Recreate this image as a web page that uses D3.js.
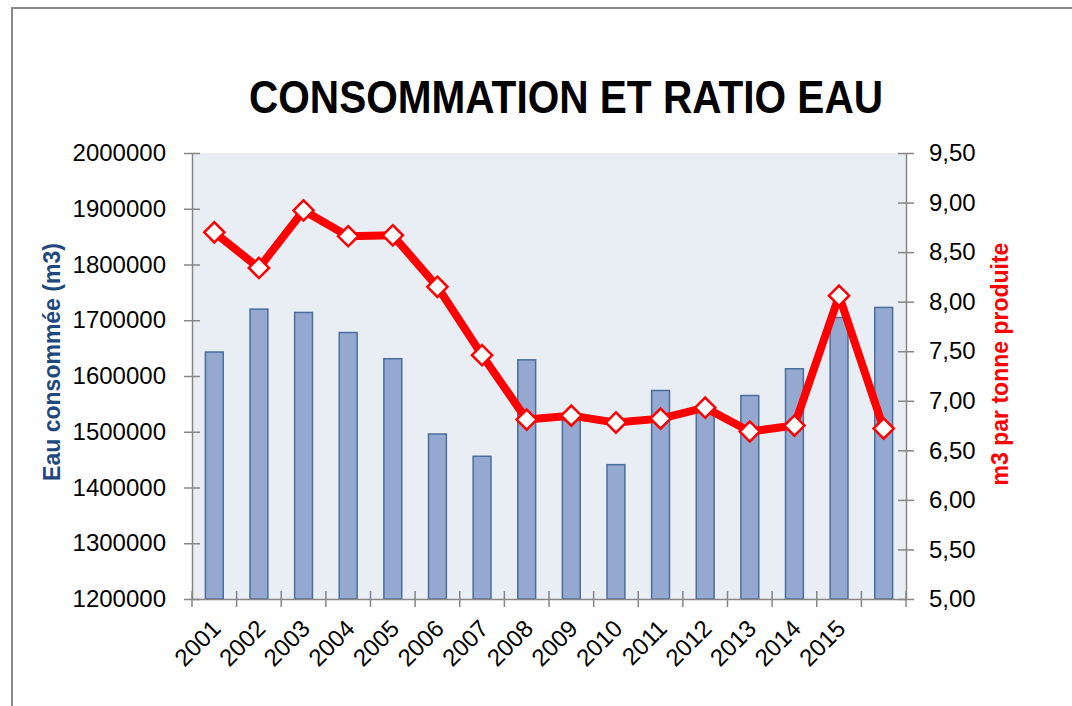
<!DOCTYPE html>
<html>
<head>
<meta charset="utf-8">
<script src="https://cdn.jsdelivr.net/npm/d3@7"></script>
<style>
  html, body { margin: 0; padding: 0; background: #fff; }
  svg { display: block; }
  text { font-family: "Liberation Sans", Arial, sans-serif; }
</style>
</head>
<body>
<div id="chart"></div>
<script>
// categories (the last one has no label in the original)
var years = ["2001", "2002", "2003", "2004", "2005", "2006", "2007", "2008",
             "2009", "2010", "2011", "2012", "2013", "2014", "2015", ""];

// water consumed (m3)
var consumption = [1643000, 1720000, 1714000, 1678000, 1631000, 1496000, 1456000, 1629000,
                   1520000, 1441000, 1574000, 1540000, 1565000, 1613000, 1705000, 1723000];

// m3 per tonne produced
var ratio = [8.70, 8.34, 8.92, 8.66, 8.67, 8.15, 7.46, 6.81,
             6.85, 6.78, 6.82, 6.93, 6.69, 6.75, 8.06, 6.72];

var leftTicks = [1200000, 1300000, 1400000, 1500000, 1600000, 1700000, 1800000, 1900000, 2000000];
var rightTicks = [5.0, 5.5, 6.0, 6.5, 7.0, 7.5, 8.0, 8.5, 9.0, 9.5];

var W = 1072, H = 706;
var plot = { left: 192, right: 906, top: 153, bottom: 599 };

var svg = d3.select("#chart").append("svg")
    .attr("width", W)
    .attr("height", H);

// outer chart border
svg.append("rect")
    .attr("x", 12).attr("y", 8)
    .attr("width", W + 20).attr("height", H + 20)
    .attr("fill", "#fff")
    .attr("stroke", "#898989")
    .attr("stroke-width", 2);

var idx = years.map(function(d, i) { return i; });

var x = d3.scaleBand()
    .domain(idx)
    .range([plot.left, plot.right])
    .paddingInner(0.6)
    .paddingOuter(0.3);

var yLeft = d3.scaleLinear()
    .domain([1200000, 2000000])
    .range([plot.bottom, plot.top]);

var yRight = d3.scaleLinear()
    .domain([5, 9.5])
    .range([plot.bottom, plot.top]);

// plot area background
svg.append("rect")
    .attr("x", plot.left).attr("y", plot.top)
    .attr("width", plot.right - plot.left)
    .attr("height", plot.bottom - plot.top)
    .attr("fill", "#E9EDF4");

// bars
svg.append("g")
    .selectAll("rect")
    .data(consumption)
    .enter().append("rect")
    .attr("x", function(d, i) { return x(i); })
    .attr("y", function(d) { return yLeft(d); })
    .attr("width", x.bandwidth())
    .attr("height", function(d) { return plot.bottom - yLeft(d); })
    .attr("fill", "#95A9D0")
    .attr("stroke", "#4A6E9E")
    .attr("stroke-width", 1.5);

/* Axes */
var fmtRight = function(d) { return d3.format(".2f")(d).replace(".", ","); };

var leftAxis = svg.append("g")
    .attr("transform", "translate(" + plot.left + ",0)")
    .call(d3.axisLeft(yLeft).tickValues(leftTicks).tickFormat(d3.format("d"))
        .tickSizeInner(8).tickSizeOuter(0).tickPadding(18));

var rightAxis = svg.append("g")
    .attr("transform", "translate(" + plot.right + ",0)")
    .call(d3.axisRight(yRight).tickValues(rightTicks).tickFormat(fmtRight)
        .tickSizeInner(8).tickSizeOuter(0).tickPadding(15));

var bottomAxis = svg.append("g")
    .attr("transform", "translate(0," + plot.bottom + ")")
    .call(d3.axisBottom(x).tickFormat(function(i) { return years[i]; })
        .tickSize(0).tickPadding(0));

// crossing tick marks
leftAxis.selectAll(".tick line").attr("x1", 8).attr("x2", -8);
rightAxis.selectAll(".tick line").attr("x1", -8).attr("x2", 8);

// bottom ticks sit on category boundaries
var bounds = d3.range(years.length + 1).map(function(i) {
    return plot.left + i * x.step() - (i === 0 ? 0 : 0);
});
bottomAxis.selectAll(".boundary")
    .data(bounds)
    .enter().append("line")
    .attr("class", "boundary")
    .attr("x1", function(d) { return d; })
    .attr("x2", function(d) { return d; })
    .attr("y1", -8).attr("y2", 8);

bottomAxis.selectAll(".tick text")
    .attr("text-anchor", "end")
    .attr("transform", "translate(8,31) rotate(-45)")
    .attr("dy", 0);

[leftAxis, rightAxis, bottomAxis].forEach(function(a) {
    a.select(".domain").attr("stroke", "#868686").attr("stroke-width", 1.5);
    a.selectAll("line").attr("stroke", "#868686").attr("stroke-width", 1.5);
    a.selectAll("text")
        .attr("fill", "#000")
        .style("font-size", "24px")
        .style("font-family", "'Liberation Sans', Arial, sans-serif");
});

// red ratio line
var line = d3.line()
    .x(function(d, i) { return x(i) + x.bandwidth() / 2; })
    .y(function(d) { return yRight(d); });

svg.append("path")
    .datum(ratio)
    .attr("d", line)
    .attr("fill", "none")
    .attr("stroke", "#FF0000")
    .attr("stroke-width", 8)
    .attr("stroke-linejoin", "round");

// diamond markers
svg.append("g")
    .selectAll("path")
    .data(ratio)
    .enter().append("path")
    .attr("transform", function(d, i) {
        return "translate(" + (x(i) + x.bandwidth() / 2) + "," + yRight(d) + ")";
    })
    .attr("d", d3.symbol().type(d3.symbolDiamond2).size(260))
    .attr("fill", "#fff")
    .attr("stroke", "#FF0000")
    .attr("stroke-width", 2.5);

/* Titles */
svg.append("text")
    .attr("x", 566).attr("y", 113)
    .attr("text-anchor", "middle")
    .attr("textLength", 634)
    .attr("lengthAdjust", "spacingAndGlyphs")
    .style("font-size", "47px")
    .style("font-weight", "bold")
    .attr("fill", "#000")
    .text("CONSOMMATION ET RATIO EAU");

svg.append("text")
    .attr("transform", "translate(60,362) rotate(-90)")
    .attr("text-anchor", "middle")
    .style("font-size", "23px")
    .style("font-weight", "bold")
    .attr("fill", "#1F497D")
    .text("Eau consommée (m3)");

svg.append("text")
    .attr("transform", "translate(1008,364) rotate(-90)")
    .attr("text-anchor", "middle")
    .style("font-size", "23px")
    .style("font-weight", "bold")
    .attr("fill", "#FF0000")
    .text("m3 par tonne produite");
</script>
</body>
</html>
